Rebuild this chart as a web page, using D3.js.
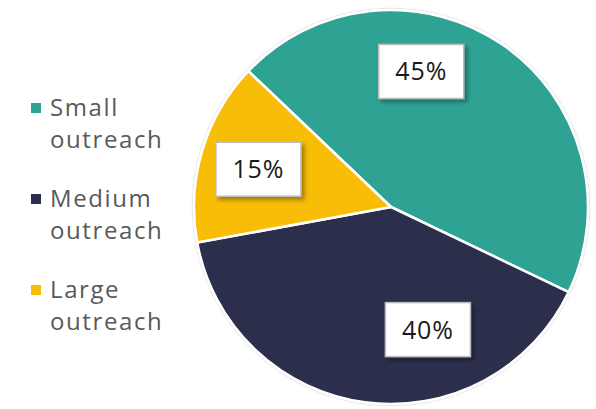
<!DOCTYPE html>
<html><head><meta charset="utf-8">
<script src="https://cdn.jsdelivr.net/npm/d3@7"></script>
<style>html,body{margin:0;padding:0;background:#fff;}svg{display:block;}</style>
</head><body>
<svg id="c" width="596" height="409"></svg>
<script>
const categories = ["Small outreach", "Medium outreach", "Large outreach"];
const legendLines = [["Small", "outreach"], ["Medium", "outreach"], ["Large", "outreach"]];
const values = [45, 40, 15];
const labels = ["45%", "40%", "15%"];
const colors = ["#2ea393", "#2b2f4b", "#f8bd07"];
// label placement within each slice: fraction along the slice angle, fraction of radius
const labelAngleFrac = [0.364, 0.331, 0.487];
const labelRadiusFrac = [0.705, 0.65, 0.70];

const svg = d3.select("#c");
const cx = 391, cy = 207, R = 197;

const defs = svg.append("defs");
const sh = defs.append("filter").attr("id", "sh").attr("x", "-30%").attr("y", "-30%").attr("width", "160%").attr("height", "160%");
sh.append("feDropShadow").attr("dx", 3).attr("dy", 3).attr("stdDeviation", 2).attr("flood-color", "#000").attr("flood-opacity", 0.35);
const psh = defs.append("filter").attr("id", "psh").attr("x", "-10%").attr("y", "-10%").attr("width", "120%").attr("height", "120%");
psh.append("feDropShadow").attr("dx", 0).attr("dy", 0).attr("stdDeviation", 1.2).attr("flood-color", "#000").attr("flood-opacity", 0.3);

const pie = d3.pie().sort(null).value(d => d)
  .startAngle(-46.4 * Math.PI / 180)
  .endAngle(-46.4 * Math.PI / 180 + 2 * Math.PI);
const arcs = pie(values);
const arc = d3.arc().innerRadius(0).outerRadius(R);

const g = svg.append("g").attr("transform", `translate(${cx},${cy})`);
g.append("circle").attr("r", R + 1).attr("fill", "#fff").attr("filter", "url(#psh)");
g.selectAll("path.slice").data(arcs).enter().append("path")
  .attr("class", "slice")
  .attr("d", arc)
  .attr("fill", (d, i) => colors[i])
  .attr("stroke", "#fff")
  .attr("stroke-width", 2.5)
  .attr("stroke-linejoin", "round");

const bw = 85, bh = 54;
arcs.forEach((d, i) => {
  const a = d.startAngle + labelAngleFrac[i] * (d.endAngle - d.startAngle);
  const r = labelRadiusFrac[i] * R;
  const x = Math.sin(a) * r, y = -Math.cos(a) * r;
  const lg = g.append("g").attr("transform", `translate(${x},${y})`);
  lg.append("rect").attr("x", -bw / 2).attr("y", -bh / 2).attr("width", bw).attr("height", bh)
    .attr("fill", "#fff").attr("stroke", "#bdbdbd").attr("stroke-width", 1.5).attr("filter", "url(#sh)");
  lg.append("text").attr("text-anchor", "middle").attr("dy", "0.36em")
    .attr("font-family", "'Open Sans', sans-serif").attr("font-size", 25).attr("letter-spacing", 0.9)
    .attr("fill", "#1a1a1a").text(labels[i]);
});

// legend
const leg = svg.append("g");
categories.forEach((c, i) => {
  const y0 = 116 + i * 91;
  leg.append("rect").attr("x", 31).attr("y", y0 - 13).attr("width", 10).attr("height", 10).attr("fill", colors[i]);
  const t = leg.append("text").attr("x", 50).attr("y", y0)
    .attr("font-family", "'Open Sans', sans-serif").attr("font-size", 24).attr("letter-spacing", 1.6)
    .attr("fill", "#595959");
  legendLines[i].forEach((ln, j) => {
    t.append("tspan").attr("x", 50).attr("y", y0 + j * 32).text(ln);
  });
});
</script>
</body></html>
